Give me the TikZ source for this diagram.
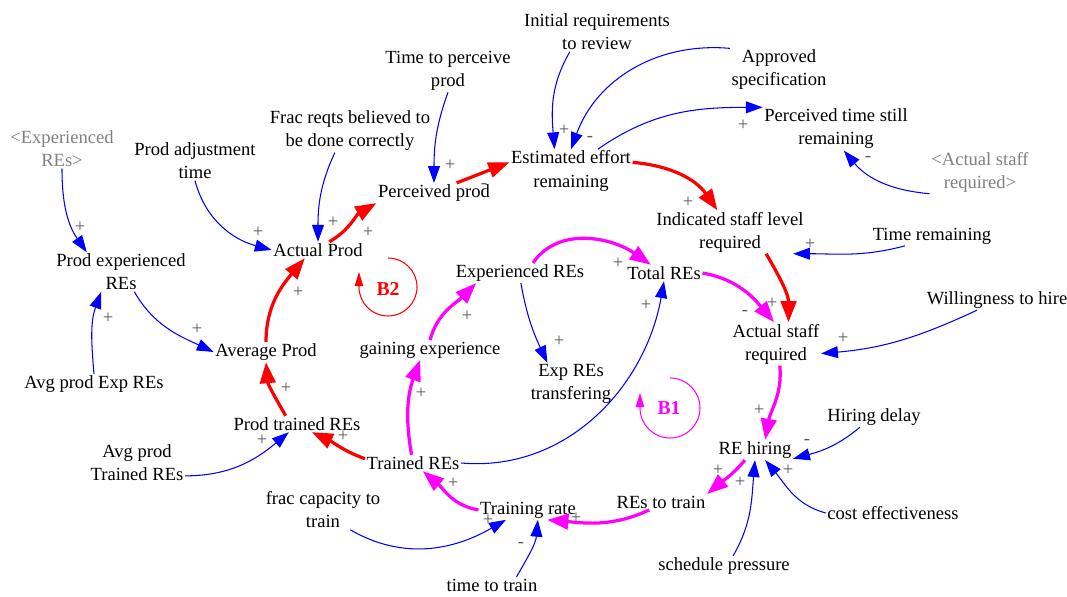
\documentclass[tikz,border=0pt]{standalone}
\usepackage{fontspec}
\setmainfont{Liberation Serif}
\usetikzlibrary{arrows.meta}
\definecolor{loopmag}{RGB}{255,0,255}
\definecolor{loopred}{RGB}{255,0,0}
\definecolor{infoblue}{RGB}{0,0,255}

\begin{document}
\begin{tikzpicture}[x=0.025cm,y=0.025cm,
    font=\fontsize{13.2}{16.4}\selectfont,
    var/.style={align=center,inner sep=1pt},
    ghost/.style={var,text=black!50},
    info/.style={infoblue,line width=0.75pt,-{Triangle[length=12pt,width=8.5pt]}},
    redlink/.style={loopred,line width=2.3pt,-{Triangle[length=15pt,width=11pt]}},
    maglink/.style={loopmag,line width=2.3pt,-{Triangle[length=15pt,width=11pt]}},
    sign/.style={text=black!65,inner sep=0pt},
    loopname/.style={font=\fontsize{14}{16}\selectfont\bfseries},
    looparrow/.style={line width=0.75pt,-{Triangle[length=10pt,width=6pt]}}]

      \useasboundingbox (0,0) rectangle (1067,597);

      \node [ghost] (ghost) at (62,448) {<Experienced\\REs>};
      \node [var] (prodadj) at (195,436) {Prod adjustment\\time};
      \node [var] (fracreqts) at (350,466) {Frac reqts believed to\\be done correctly};
      \node [var] (timeperc) at (448,526) {Time to perceive\\prod};
      \node [var] (initreq) at (597,565) {Initial requirements\\to review};
      \node [var] (approved) at (779,527) {Approved\\specification};
      \node [var] (perctime) at (836,468) {Perceived time still\\remaining};
      \node [ghost] (staffghost) at (980,425) {<Actual staff\\required>};
      \node [var] (esteffort) at (571,426) {Estimated effort\\remaining};
      \node [var] (percprod) at (434,404) {Perceived prod};
      \node [var] (actprod) at (318,347) {Actual Prod};
      \node [var] (prodexp) at (121,325) {Prod experienced\\REs};
      \node [var] (indstaff) at (730,365) {Indicated staff level\\required};
      \node [var] (timerem) at (932,361) {Time remaining};
      \node [var] (expres) at (520,324) {Experienced REs};
      \node [var] (totres) at (664,324) {Total REs};
      \node [var] (actstaff) at (776,253) {Actual staff\\required};
      \node [var] (willing) at (997,297) {Willingness to hire};
      \node [var] (avgprod) at (266,245) {Average Prod};
      \node [var] (gaining) at (430,247) {gaining experience};
      \node [var] (exptransf) at (571,213) {Exp REs\\transfering};
      \node [var] (avgexp) at (94,213) {Avg prod Exp REs};
      \node [var] (prodtrained) at (297,173) {Prod trained REs};
      \node [var] (avgtrained) at (137,134) {Avg prod\\Trained REs};
      \node [var] (trainedres) at (413,134) {Trained REs};
      \node [var] (hiringdelay) at (874,180) {Hiring delay};
      \node [var] (rehiring) at (755,147) {RE hiring};
      \node [var] (fraccap) at (323,87) {frac capacity to\\train};
      \node [var] (trainrate) at (528,87) {Training rate};
      \node [var] (totrain) at (661,95) {REs to train};
      \node [var] (costeff) at (893,84) {cost effectiveness};
      \node [var] (schedpress) at (724,31) {schedule pressure};
      \node [var] (timetrain) at (492,12) {time to train};

      \draw [info] (ghost.south) to [out=-90,in=125] (prodexp.150);
      \draw [info] (prodadj.south) to [out=-75,in=165] (actprod.west);
      \draw [info] (fracreqts.-125) to [out=-115,in=90] (actprod.north);
      \draw [info] (timeperc.south) to [out=-110,in=90] (percprod.north);
      \draw [info] (initreq.-144) to [out=-120,in=95] (esteffort.127);
      \draw [info] (approved.north west) to [out=175,in=70] (esteffort.north);
      \draw [info] (esteffort.39) to [out=35,in=180] (perctime.north west);
      \draw [info] (staffghost.south west) to [out=175,in=-50] (perctime.-70);
      \draw [info] (timerem.-160) to [out=-165,in=0] (indstaff.-19);
      \draw [info] (willing.-153) to [out=-155,in=5] (actstaff.-12);
      \draw [info] (prodexp.-56) to [out=-60,in=155] (avgprod.west);
      \draw [info] (avgexp.north) to [out=95,in=-110] (prodexp.-135);
      \draw [info] (avgtrained.-15) to [out=0,in=-140] (prodtrained.-135);
      \draw [info] (expres.-85) to [out=-80,in=115] (exptransf.138);
      \draw [info] (trainedres.east) to [out=-5,in=-100] (totres.south);
      \draw [info] (hiringdelay.-144) to [out=-140,in=15] (rehiring.-13);
      \draw [info] (costeff.west) to [out=165,in=-50] (rehiring.-45);
      \draw [info] (schedpress.48) to [out=60,in=-95] (rehiring.south);
      \draw [info] (fraccap.-36) to [out=-30,in=-150] (trainrate.-156);
      \draw [info] (timetrain.18) to [out=60,in=-95] (trainrate.-45);

      \draw [redlink] (actprod.36) to [out=30,in=-150] (percprod.south west);
      \draw [redlink] (percprod.24) to (esteffort.172);
      \draw [redlink] (esteffort.8) to [out=-5,in=125] (indstaff.120);
      \draw [redlink] (indstaff.-31) to [out=-60,in=90] (actstaff.60);
      \draw [redlink] (avgprod.north) to [out=90,in=-130] (actprod.-148);
      \draw [redlink] (prodtrained.144) to [out=120,in=-85] (avgprod.south);
      \draw [redlink] (trainedres.175) to [out=160,in=-25] (prodtrained.-29);

      \draw [maglink] (expres.38) to [out=55,in=145] (totres.148);
      \draw [maglink] (totres.east) to [out=-10,in=130] (actstaff.95);
      \draw [maglink] (actstaff.-80) to [out=-85,in=80] (rehiring.45);
      \draw [maglink] (rehiring.-135) to [out=-130,in=40] (totrain.north east);
      \draw [maglink] (totrain.-146) to [out=-155,in=-5] (trainrate.-27);
      \draw [maglink] (trainrate.west) to [out=170,in=-40] (trainedres.-40);
      \draw [maglink] (trainedres.100) to [out=100,in=-110] (gaining.-135);
      \draw [maglink] (gaining.north) to [out=75,in=-135] (expres.-167);

      \node [sign] (p1) at (80,370) {+};
      \node [sign] (p2) at (258,365) {+};
      \node [sign] (p3) at (333,375) {+};
      \node [sign] (p4) at (450,432) {+};
      \node [sign] (p5) at (564,467) {+};
      \node [sign] (m1) at (590,458) {-};
      \node [sign] (p6) at (743,472) {+};
      \node [sign] (m2) at (868,438) {-};
      \node [sign] (p7) at (810,353) {+};
      \node [sign] (p8) at (843,259) {+};
      \node [sign] (p9) at (197,268) {+};
      \node [sign] (p10) at (108,279) {+};
      \node [sign] (p11) at (262,157) {+};
      \node [sign] (p12) at (559,256) {+};
      \node [sign] (p13) at (646,292) {+};
      \node [sign] (m3) at (807,155) {-};
      \node [sign] (p14) at (788,127) {+};
      \node [sign] (p15) at (740,115) {+};
      \node [sign] (p16) at (488,77) {+};
      \node [sign] (m4) at (521,52) {-};
      \node [sign] (p17) at (368,365) {+};
      \node [sign] (m5) at (484,411) {-};
      \node [sign] (p18) at (688,395) {+};
      \node [sign] (p19) at (772,294) {+};
      \node [sign] (m6) at (745,284) {-};
      \node [sign] (p20) at (298,305) {+};
      \node [sign] (p21) at (286,209) {+};
      \node [sign] (p22) at (343,161) {+};
      \node [sign] (p23) at (618,334) {+};
      \node [sign] (p24) at (759,187) {+};
      \node [sign] (p25) at (718,127) {+};
      \node [sign] (p26) at (576,79) {+};
      \node [sign] (p27) at (453,114) {+};
      \node [sign] (p28) at (421,204) {+};
      \node [sign] (p29) at (467,281) {+};

      \node [loopname,loopred] (b2) at (388,308) {B2};
      \draw [looparrow,loopred] (388,339) arc [start angle=90,end angle=-180,radius=29] -- ++(0,15);

      \node [loopname,loopmag] (b1) at (669,189) {B1};
      \draw [looparrow,loopmag] (670,219) arc [start angle=90,end angle=-180,radius=30] -- ++(0,15);

    \end{tikzpicture}
\end{document}
